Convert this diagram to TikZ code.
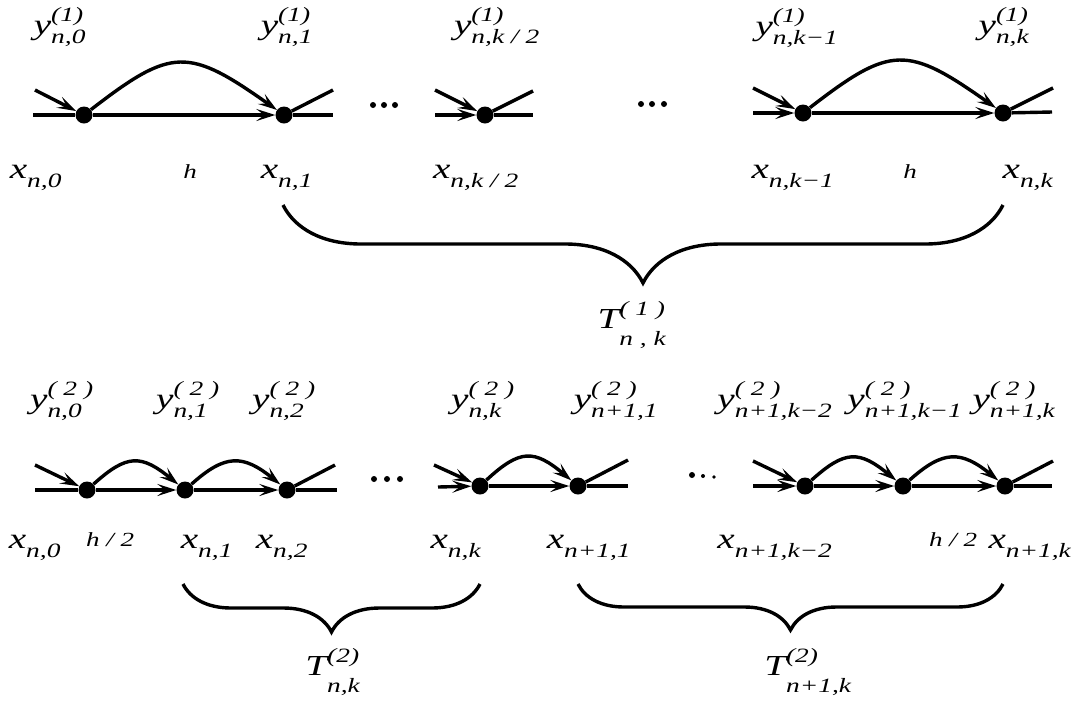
\documentclass[tikz,border=0pt]{standalone}
\usepackage{amsmath}
\usepackage{fontspec}
\setmainfont{Liberation Serif}
\usetikzlibrary{arrows.meta,decorations.pathreplacing}
\newcommand\stretchx[1]{\scalebox{1.35}[1]{#1}}
\newcommand\ylab[3]{\stretchx{$\textit{#1}^{\textit{#2}}_{\textit{#3}}$}}
\newcommand\tlab[2]{\stretchx{$\textit{T}^{\textit{#1}}_{\rule{0pt}{22pt}\textit{#2}}$}}
\begin{document}
\begin{tikzpicture}[x=1pt,y=-1pt,
  dot/.style={circle,fill=black,inner sep=0pt,minimum size=17pt},
  ln/.style={line width=3.4pt},
  arr/.style={line width=3.4pt,-{Stealth[length=19pt,width=12pt,inset=8pt]}},
  lab/.style={inner sep=0pt,font=\fontsize{29}{31}\selectfont},
  smalllab/.style={inner sep=0pt,font=\fontsize{20}{22}\selectfont},
  brc/.style={line width=3.4pt,decorate,decoration={brace,mirror,amplitude=#1}}]
\useasboundingbox (0,0) rectangle (1081,705);

% ---------------- top row ----------------
\node[dot] (d11) at (84,115) {};
\node[dot] (d12) at (284,115) {};
\node[dot] (d13) at (485,115) {};
\node[dot] (d14) at (803,113) {};
\node[dot] (d15) at (1003,113) {};
\coordinate (s1) at (33,115);  \coordinate (e1) at (333,115);
\coordinate (i1) at (35,90);   \coordinate (o1) at (333,90);
\coordinate (s2) at (435,115); \coordinate (e2) at (533,115);
\coordinate (i2) at (435,90);  \coordinate (o2) at (533,91);
\coordinate (s3) at (753,113); \coordinate (e3) at (1052,112);
\coordinate (i3) at (753,88);  \coordinate (o3) at (1053,88);

\draw[ln] (s1) -- (d11);
\draw[arr] (d11) -- (d12);
\draw[ln] (d12) -- (e1);
\draw[arr] (i1) -- (d11);
\draw[ln] (d12) -- (o1);
\draw[arr] (d11) .. controls +(88,-68) and +(-96,-68) .. (d12);

\draw[arr] (s2) -- (d13);
\draw[ln] (d13) -- (e2);
\draw[arr] (i2) -- (d13);
\draw[ln] (d13) -- (o2);

\draw[arr] (s3) -- (d14);
\draw[arr] (d14) -- (d15);
\draw[ln] (d15) -- (e3);
\draw[arr] (i3) -- (d14);
\draw[ln] (d15) -- (o3);
\draw[arr] (d14) .. controls +(88,-68) and +(-96,-68) .. (d15);

\foreach \x in {373,384,395} \fill (\x,105) circle (3);
\foreach \x in {641,652,664} \fill (\x,104) circle (3);

\node[lab] (ya0) at (60,27) {\ylab{y}{(1)}{n,0}};
\node[lab] (ya1) at (287,27) {\ylab{y}{(1)}{n,1}};
\node[lab] (ya2) at (497,27) {\ylab{y}{(1)}{n,k / 2}};
\node[lab] (ya3) at (797,28) {\ylab{y}{(1)}{n,k−1}};
\node[lab] (ya4) at (1004,27) {\ylab{y}{(1)}{n,k}};

\node[lab] (xa0) at (36,178) {\ylab{x}{}{n,0}};
\node[smalllab] (ha) at (190,172) {\stretchx{\textit{h}}};
\node[lab] (xa1) at (287,178) {\ylab{x}{}{n,1}};
\node[lab] (xa2) at (476,178) {\ylab{x}{}{n,k / 2}};
\node[lab] (xa3) at (793,178) {\ylab{x}{}{n,k−1}};
\node[smalllab] (hb) at (910,172) {\stretchx{\textit{h}}};
\node[lab] (xa4) at (1028,178) {\ylab{x}{}{n,k}};

\draw[brc=78pt] (283,205) -- (1003,205);
\node[lab] (t1) at (632,325) {\tlab{( 1 )}{n , k}};

% ---------------- bottom row ----------------
\node[dot] (b1) at (87,490) {};
\node[dot] (b2) at (185,490) {};
\node[dot] (b3) at (287,490) {};
\node[dot] (b4) at (480,486) {};
\node[dot] (b5) at (578,486) {};
\node[dot] (b6) at (805,486) {};
\node[dot] (b7) at (903,486) {};
\node[dot] (b8) at (1005,486) {};
\coordinate (bs1) at (35,490);  \coordinate (be1) at (337,490);
\coordinate (bi1) at (35,465);  \coordinate (bo1) at (335,465);
\coordinate (bs2) at (438,487); \coordinate (be2) at (628,486);
\coordinate (bi2) at (434,465); \coordinate (bo2) at (628,460);
\coordinate (bs3) at (753,486); \coordinate (be3) at (1052,486);
\coordinate (bi3) at (753,461); \coordinate (bo3) at (1053,461);

\draw[ln] (bs1) -- (b1);
\draw[arr] (b1) -- (b2);
\draw[arr] (b2) -- (b3);
\draw[ln] (b3) -- (be1);
\draw[arr] (bi1) -- (b1);
\draw[ln] (b3) -- (bo1);
\draw[arr] (b1) .. controls +(40,-36) and +(-44,-36) .. (b2);
\draw[arr] (b2) .. controls +(40,-36) and +(-44,-36) .. (b3);

\draw[arr] (bs2) -- (b4);
\draw[arr] (b4) -- (b5);
\draw[ln] (b5) -- (be2);
\draw[arr] (bi2) -- (b4);
\draw[ln] (b5) -- (bo2);
\draw[arr] (b4) .. controls +(40,-37) and +(-44,-37) .. (b5);

\draw[arr] (bs3) -- (b6);
\draw[arr] (b6) -- (b7);
\draw[arr] (b7) -- (b8);
\draw[ln] (b8) -- (be3);
\draw[arr] (bi3) -- (b6);
\draw[ln] (b8) -- (bo3);
\draw[arr] (b6) .. controls +(40,-36) and +(-44,-36) .. (b7);
\draw[arr] (b7) .. controls +(40,-36) and +(-44,-36) .. (b8);

\foreach \x in {374,387,400} \fill (\x,479) circle (3);
\fill (692,475) circle (3);
\fill (703,476) circle (2);
\fill (714,477) circle (1.8);

\node[lab] (yb0) at (62,401) {\ylab{y}{( 2 )}{n,0}};
\node[lab] (yb1) at (188,401) {\ylab{y}{( 2 )}{n,1}};
\node[lab] (yb2) at (284,401) {\ylab{y}{( 2 )}{n,2}};
\node[lab] (yb3) at (483,401) {\ylab{y}{( 2 )}{n,k}};
\node[lab] (yb4) at (616,401) {\ylab{y}{( 2 )}{n+1,1}};
\node[lab] (yb5) at (775,401) {\ylab{y}{( 2 )}{n+1,k−2}};
\node[lab] (yb6) at (905,401) {\ylab{y}{( 2 )}{n+1,k−1}};
\node[lab] (yb7) at (1014,401) {\ylab{y}{( 2 )}{n+1,k}};

\node[lab] (xb0) at (35,548) {\ylab{x}{}{n,0}};
\node[smalllab] (hc) at (110,540) {\stretchx{\textit{h / 2}}};
\node[lab] (xb1) at (207,548) {\ylab{x}{}{n,1}};
\node[lab] (xb2) at (282,548) {\ylab{x}{}{n,2}};
\node[lab] (xb3) at (456,548) {\ylab{x}{}{n,k}};
\node[lab] (xb4) at (589,548) {\ylab{x}{}{n+1,1}};
\node[lab] (xb5) at (775,548) {\ylab{x}{}{n+1,k−2}};
\node[smalllab] (hd) at (953,540) {\stretchx{\textit{h / 2}}};
\node[lab] (xb6) at (1030,548) {\ylab{x}{}{n+1,k}};

\draw[brc=48pt] (183,584) -- (480,584);
\draw[brc=46pt] (578,584) -- (1003,584);
\node[lab] (t2) at (333,672) {\tlab{(2)}{n,k}};
\node[lab] (t3) at (808,672) {\tlab{(2)}{n+1,k}};
\end{tikzpicture}
\end{document}
